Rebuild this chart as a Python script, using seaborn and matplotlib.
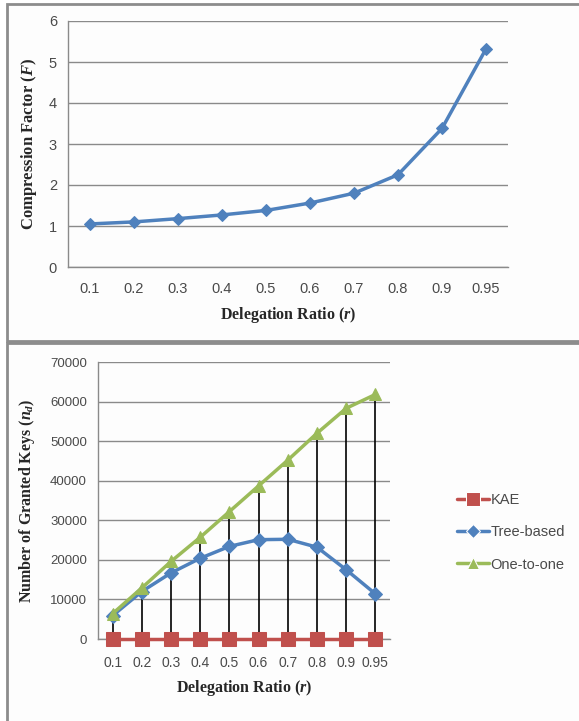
import numpy as np
import pandas as pd
import matplotlib
matplotlib.use("Agg")
import matplotlib.pyplot as plt
import seaborn as sns
from matplotlib.patches import Rectangle

# data
ratios = ["0.1", "0.2", "0.3", "0.4", "0.5", "0.6", "0.7", "0.8", "0.9", "0.95"]
compression = [1.05, 1.10, 1.18, 1.27, 1.38, 1.56, 1.80, 2.25, 3.38, 5.32]
kae = [0, 0, 0, 0, 0, 0, 0, 0, 0, 0]
tree_based = [5900, 12000, 16700, 20400, 23400, 25100, 25200, 23200, 17500, 11400]
one_to_one = [6400, 12900, 19600, 25700, 32200, 38700, 45200, 52000, 58300, 61800]
schemes = ["KAE", "Tree-based", "One-to-one"]

blue = "#4F81BD"
red = "#C0504D"
green = "#9BBB59"
grid_col = "#8A8A8A"
tick_col = "#4A4A4A"

sns.set_style("white")
plt.rcParams["font.family"] = ["Liberation Sans", "DejaVu Sans"]
plt.rcParams["mathtext.fontset"] = "custom"
plt.rcParams["mathtext.it"] = "Liberation Serif:italic:bold"
plt.rcParams["mathtext.rm"] = "Liberation Serif:bold"

fig = plt.figure(figsize=(5.79, 7.21), dpi=100)
fig.patch.set_facecolor("white")

# panel frames
for (y0, y1) in [(4, 341), (343, 722)]:
    fig.patches.append(Rectangle((7 / 579, 1 - y1 / 721), 1.0, (y1 - y0) / 721,
                                 transform=fig.transFigure, facecolor="#FDFDFD",
                                 edgecolor="#8C8C8C", linewidth=2, zorder=-10))

label_font = dict(family="Liberation Serif", weight="bold", size=11.5, color="#262626")


def style_axes(ax, ysize, xsize, xpad):
    ax.set_facecolor("none")
    ax.set_xlim(-0.5, 9.5)
    ax.yaxis.grid(True, color=grid_col, linewidth=1)
    ax.xaxis.grid(False)
    ax.set_axisbelow(True)
    for s in ["top", "right"]:
        ax.spines[s].set_visible(False)
    for s in ["left", "bottom"]:
        ax.spines[s].set_color(grid_col)
        ax.spines[s].set_linewidth(1)
    ax.tick_params(axis="y", length=4, color=grid_col, labelsize=ysize, labelcolor=tick_col, pad=4)
    ax.tick_params(axis="x", length=0, labelsize=xsize, labelcolor=tick_col, pad=xpad)


# top chart: compression factor
ax1 = fig.add_axes([68 / 579, 1 - 267 / 721, 440 / 579, 246 / 721])
top_df = pd.DataFrame({"r": ratios, "F": compression})
sns.lineplot(data=top_df, x="r", y="F", ax=ax1, color=blue, marker="D",
             markersize=6, markeredgecolor=blue, linewidth=2.5)
style_axes(ax1, 10.5, 10.5, 11)
ax1.set_ylim(0, 6)
ax1.set_yticks(range(0, 7))
ax1.set_xlabel("Delegation Ratio ($r$)", fontdict=label_font, labelpad=6)
ax1.set_ylabel("Compression Factor ($F$)", fontdict={**label_font, "size": 12})
ax1.yaxis.set_label_coords(-0.066, 0.5)

# bottom chart: number of granted keys
ax2 = fig.add_axes([98 / 579, 1 - 639 / 721, 292 / 579, 277 / 721])
keys_df = pd.DataFrame({
    "r": ratios * 3,
    "keys": kae + tree_based + one_to_one,
    "scheme": [s for s in schemes for _ in ratios],
})
ax2.vlines(ratios, kae, one_to_one, color="black", linewidth=1.2, zorder=1.5)
sns.lineplot(data=keys_df, x="r", y="keys", hue="scheme", style="scheme",
             hue_order=schemes, style_order=schemes,
             palette=[red, blue, green], markers=["s", "D", "^"], dashes=False,
             markersize=7, linewidth=2.5, ax=ax2, zorder=3)
for ln, c in zip(ax2.lines, [red, blue, green]):
    ln.set_markeredgecolor(c)
    ln.set_clip_on(False)
ax2.lines[0].set_markersize(10)
ax2.lines[2].set_markersize(8)
style_axes(ax2, 9.5, 10, 12)
ax2.set_ylim(0, 70000)
ax2.set_yticks(range(0, 70001, 10000))
ax2.set_xlabel("Delegation Ratio ($r$)", fontdict=label_font, labelpad=6)
ax2.set_ylabel("Number of Granted Keys ($n_d$)", fontdict=label_font)
ax2.yaxis.set_label_coords(-0.21, 0.5)

handles, labels = ax2.get_legend_handles_labels()
for h, ms in zip(handles, [10, 7, 8]):
    h.set_markersize(ms)
ax2.legend(handles, labels, loc="center left", bbox_to_anchor=(1.185, 0.385),
           frameon=False, fontsize=10.5, handlelength=2.2, handletextpad=0.1,
           labelspacing=1.25, labelcolor=tick_col)

fig.savefig("out.png", dpi=100)
